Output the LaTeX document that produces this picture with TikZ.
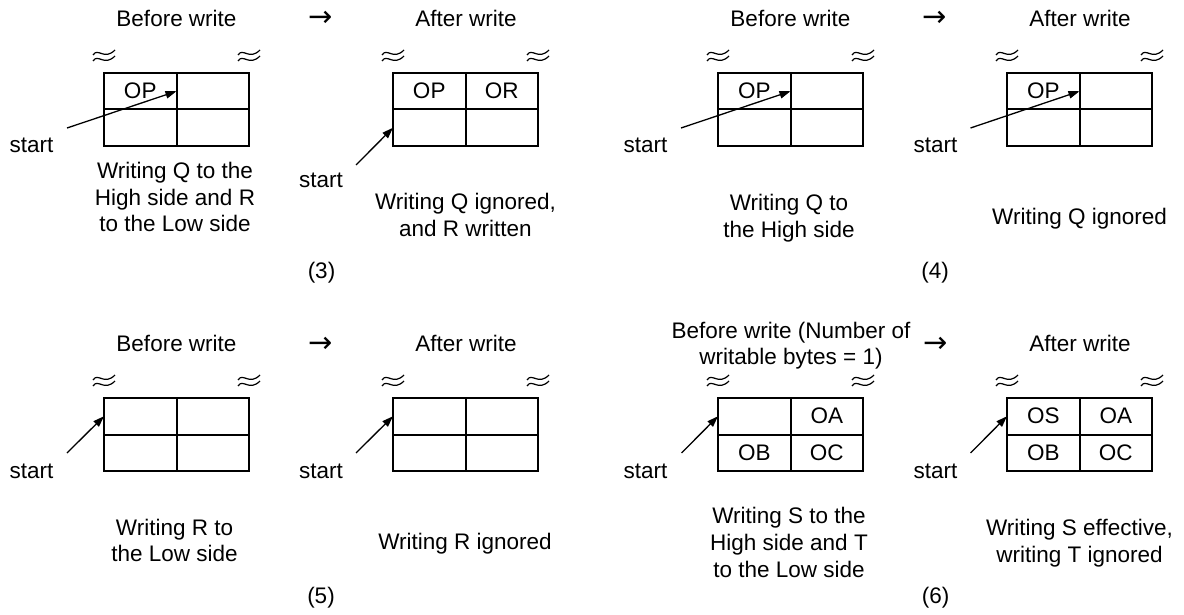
\documentclass[tikz,border=0pt]{standalone}
\usepackage{fontspec}
\setmainfont{Liberation Sans}
\newfontfamily\arrowfont{DejaVu Sans}
\usepackage{tikz}
\usetikzlibrary{arrows.meta}

\tikzset{
  cell/.style={draw,line width=2pt,minimum width=72.5pt,minimum height=36.5pt,inner sep=0pt,outer sep=0pt},
  ptr/.style={line width=1.3pt,-{Triangle[length=11pt,width=7.5pt]}},
  goes/.style={font=\arrowfont\fontsize{29}{29}\selectfont},
  brk/.pic={
    \draw[line width=1.2pt] (-11,-2) .. controls (-6,-10) and (0,4) .. (11,-7);
    \draw[line width=1.2pt] (-11,4) .. controls (-6,-4) and (0,10) .. (11,-1);
  }
}

\begin{document}
\begin{tikzpicture}[x=1pt,y=-1pt,every node/.style={font=\fontsize{22.5}{26.7}\selectfont}]
  \useasboundingbox (0,0) rectangle (1184,615);
  % the eight buffers, 2x2 cells each
  \foreach \bx/\lx/\ty in {a3/104/73, b3/393/73, a4/718/73, b4/1007/73,
                           a5/104/398, b5/393/398, a6/718/398, b6/1007/398}{
    \node[cell] (\bx-11) at (\lx+36.25,\ty+18.25) {};
    \node[cell] (\bx-12) at (\lx+108.75,\ty+18.25) {};
    \node[cell] (\bx-21) at (\lx+36.25,\ty+54.75) {};
    \node[cell] (\bx-22) at (\lx+108.75,\ty+54.75) {};
    \pic at (\lx,\ty-16) {brk};
    \pic at (\lx+145,\ty-16) {brk};
  }

  % (3)
  \node[anchor=base] (bw3) at (176.5,26.7) {Before write};
  \node[goes] (to3) at (320.5,19) {→};
  \node[anchor=base] (aw3) at (466,26.7) {After write};
  \node (op3a) at (a3-11) {OP};
  \node (op3b) at (b3-11) {OP};
  \node (or3b) at (b3-12) {OR};
  \node[anchor=base] (st3a) at (31.5,153) {start};
  \node[anchor=base] (st3b) at (321,188) {start};
  \coordinate (t3a) at (67,128);
  \coordinate (t3b) at (356,165);
  \draw[ptr] (t3a) -- (a3-11.east);
  \draw[ptr] (t3b) -- (b3-21.west);
  \node[align=center] (tx3a) at (175,197) {Writing Q to the\\High side and R\\to the Low side};
  \node[align=center] (tx3b) at (465.5,215.3) {Writing Q ignored,\\and R written};
  \node (n3) at (321.5,273) {(3)};

  % (4)
  \node[anchor=base] (bw4) at (790.5,26.7) {Before write};
  \node[goes] (to4) at (935,19) {→};
  \node[anchor=base] (aw4) at (1080,26.7) {After write};
  \node (op4a) at (a4-11) {OP};
  \node (op4b) at (b4-11) {OP};
  \node[anchor=base] (st4a) at (645.5,153) {start};
  \node[anchor=base] (st4b) at (935.5,153) {start};
  \coordinate (t4a) at (681,128);
  \coordinate (t4b) at (970.5,128);
  \draw[ptr] (t4a) -- (a4-11.east);
  \draw[ptr] (t4b) -- (b4-11.east);
  \node[align=center] (tx4a) at (789,218) {Writing Q to\\the High side};
  \node (tx4b) at (1079.5,218.2) {Writing Q ignored};
  \node (n4) at (935,273) {(4)};

  % (5)
  \node[anchor=base] (bw5) at (176.5,351.7) {Before write};
  \node[goes] (to5) at (321,344.5) {→};
  \node[anchor=base] (aw5) at (466,351.7) {After write};
  \node[anchor=base] (st5a) at (31.5,478) {start};
  \node[anchor=base] (st5b) at (321,478) {start};
  \coordinate (t5a) at (67,453);
  \coordinate (t5b) at (356,453);
  \draw[ptr] (t5a) -- (a5-11.west);
  \draw[ptr] (t5b) -- (b5-11.west);
  \node[align=center] (tx5a) at (174.5,540.6) {Writing R to\\the Low side};
  \node (tx5b) at (465,543.6) {Writing R ignored};
  \node (n5) at (321,597.5) {(5)};

  % (6)
  \node[align=center] (bw6) at (791,345.8) {Before write (Number of\\writable bytes = 1)};
  \node[goes] (to6) at (935.5,345) {→};
  \node[anchor=base] (aw6) at (1080,351.7) {After write};
  \node (oa6a) at (a6-12) {OA};
  \node (ob6a) at (a6-21) {OB};
  \node (oc6a) at (a6-22) {OC};
  \node (os6b) at (b6-11) {OS};
  \node (oa6b) at (b6-12) {OA};
  \node (ob6b) at (b6-21) {OB};
  \node (oc6b) at (b6-22) {OC};
  \node[anchor=base] (st6a) at (645.5,478) {start};
  \node[anchor=base] (st6b) at (935.5,478) {start};
  \coordinate (t6a) at (681.5,453);
  \coordinate (t6b) at (970.5,453);
  \draw[ptr] (t6a) -- (a6-11.west);
  \draw[ptr] (t6b) -- (b6-11.west);
  \node[align=center] (tx6a) at (789,542.5) {Writing S to the\\High side and T\\to the Low side};
  \node[align=center] (tx6b) at (1079.5,543.5) {Writing S effective,\\writing T ignored};
  \node (n6) at (935.5,598) {(6)};
\end{tikzpicture}
\end{document}
